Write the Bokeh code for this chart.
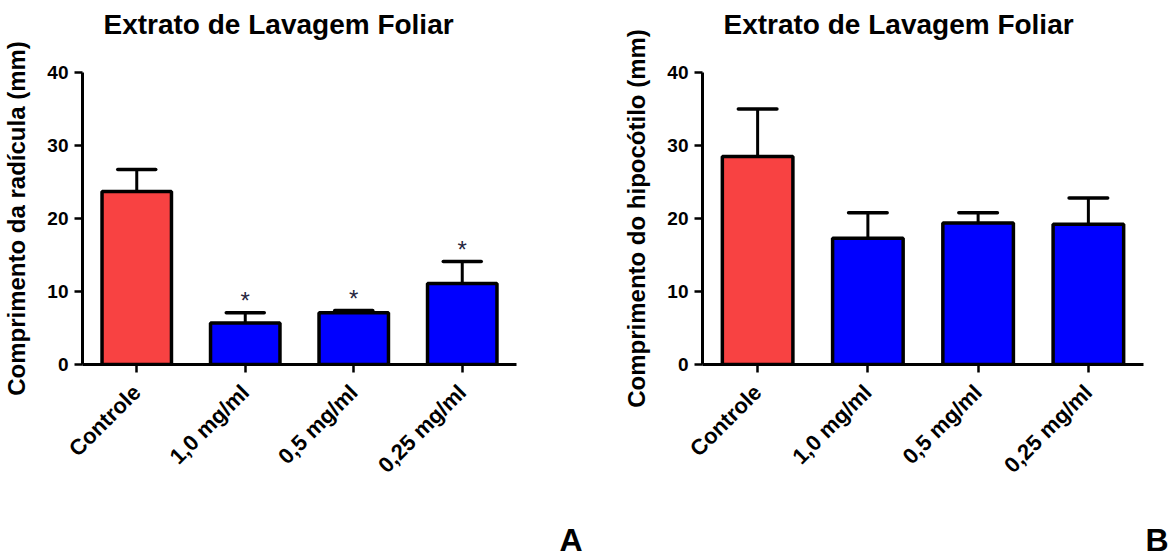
import math
from bokeh.plotting import figure
from bokeh.layouts import row
from bokeh.models import ColumnDataSource, Range1d, FactorRange, Title, FixedTicker
from bokeh.transform import dodge
from bokeh.embed import file_html
from bokeh.resources import INLINE
from bokeh.core.properties import value

# ---- data ----
categories = ["Controle", "1,0 mg/ml", "0,5 mg/ml", "0,25 mg/ml"]
radicula_mean = [23.7, 5.7, 7.1, 11.1]
radicula_err = [3.0, 1.4, 0.3, 3.0]
radicula_signif = ["", "*", "*", "*"]
hipocotilo_mean = [28.5, 17.3, 19.4, 19.2]
hipocotilo_err = [6.5, 3.5, 1.4, 3.6]
hipocotilo_signif = ["", "", "", ""]
bar_colors = ["#F84242", "#0000FF", "#0000FF", "#0000FF"]
y_ticks = [0, 10, 20, 30, 40]
title_text = "Extrato de Lavagem Foliar"
ylabel_a = "Comprimento da radícula (mm)"
ylabel_b = "Comprimento do hipocótilo (mm)"

FONT = "Liberation Sans"
H = 557


def spacer(size):
    return Title(text=" ", text_font_size="1px", standoff=size)


def make_panel(mean, err, signif, ylabel, letter, width, bl, br, letter_off):
    src = ColumnDataSource(dict(
        cat=categories,
        mean=mean,
        top=[m + e for m, e in zip(mean, err)],
        color=bar_colors,
        sig=signif,
    ))
    p = figure(x_range=FactorRange(*categories), y_range=Range1d(0, 40),
               width=width, height=H, output_backend="svg", toolbar_location=None,
               min_border_left=bl, min_border_right=br, min_border_top=72,
               min_border_bottom=193, title=None)
    p.outline_line_color = None
    p.grid.grid_line_color = None
    p.background_fill_color = "white"
    p.border_fill_color = "white"

    # error stems and caps
    p.segment(x0="cat", y0="mean", x1="cat", y1="top", line_width=3,
              line_color="black", source=src)
    p.segment(x0=dodge("cat", -0.175, range=p.x_range), y0="top",
              x1=dodge("cat", 0.175, range=p.x_range), y1="top",
              line_width=3.5, line_color="black", line_cap="round", source=src)
    p.vbar(x="cat", top="mean", bottom=0, width=0.64, fill_color="color",
           line_color="black", line_width=3.5, source=src)
    p.text(x="cat", y="top", text="sig", text_align="center",
           text_baseline="alphabetic", y_offset=-12,
           text_font=value(FONT), text_font_size="24px",
           text_color="#262640", source=src)

    for ax in (p.xaxis[0], p.yaxis[0]):
        ax.axis_line_width = 3
        ax.axis_line_color = "black"
        ax.major_tick_line_width = 2.5
        ax.major_tick_out = 8
        ax.major_tick_in = 0
        ax.minor_tick_line_color = None
        ax.major_label_text_font = FONT
        ax.major_label_text_font_style = "bold"
        ax.major_label_text_color = "black"

    p.yaxis.ticker = FixedTicker(ticks=y_ticks)
    p.yaxis.major_label_text_font_size = "19px"
    p.yaxis.major_label_standoff = 6
    p.yaxis.axis_label = ylabel
    p.yaxis.axis_label_text_font = FONT
    p.yaxis.axis_label_text_font_style = "bold"
    p.yaxis.axis_label_text_font_size = "24px"
    p.yaxis.axis_label_standoff = 14
    p.yaxis.axis_label_text_color = "black"

    p.xaxis.major_label_orientation = math.pi / 4
    p.xaxis.major_label_text_font_size = "22px"
    p.xaxis.major_label_standoff = 16

    # title (spacer pushes it up toward the top edge)
    p.add_layout(spacer(30), "above")
    p.add_layout(Title(text=title_text, align="left", offset=21, standoff=0,
                       text_font=FONT, text_font_style="bold",
                       text_font_size="28px", text_color="black"), "above")

    # panel letter below the axis
    p.add_layout(spacer(27), "below")
    p.add_layout(Title(text=letter, align="right", offset=letter_off, standoff=0,
                       text_font=FONT, text_font_style="bold",
                       text_font_size="32px", text_color="black"), "below")
    return p


pa = make_panel(radicula_mean, radicula_err, radicula_signif, ylabel_a, "A",
                585, 78, 69, -66)
pb = make_panel(hipocotilo_mean, hipocotilo_err, hipocotilo_signif, ylabel_b, "B",
                585, 117, 27, -25)

layout = row(pa, pb)
open("out.html", "w").write(file_html(layout, INLINE))
